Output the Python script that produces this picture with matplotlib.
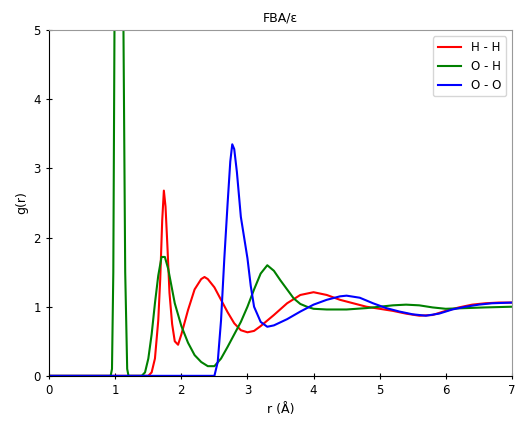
import numpy as np
import matplotlib
matplotlib.use("Agg")
import matplotlib.pyplot as plt

# H - H
r_hh = [0.0, 1.5, 1.55, 1.6, 1.65, 1.68, 1.71, 1.735, 1.76, 1.79, 1.82, 1.86, 1.9, 1.95, 2.0,
        2.1, 2.2, 2.3, 2.35, 2.4, 2.5, 2.6, 2.7, 2.8, 2.9, 3.0, 3.1, 3.2, 3.4, 3.6, 3.8, 4.0,
        4.2, 4.4, 4.6, 4.8, 5.0, 5.2, 5.4, 5.6, 5.8, 6.0, 6.2, 6.4, 6.6, 6.8, 7.0]
g_hh = [0.0, 0.0, 0.05, 0.25, 0.8, 1.4, 2.25, 2.68, 2.45, 1.85, 1.2, 0.75, 0.5, 0.45, 0.6,
        0.95, 1.25, 1.4, 1.43, 1.4, 1.28, 1.1, 0.92, 0.76, 0.66, 0.63, 0.65, 0.72, 0.88, 1.05, 1.17, 1.21,
        1.17, 1.1, 1.05, 1.0, 0.97, 0.94, 0.9, 0.87, 0.88, 0.94, 0.99, 1.03, 1.05, 1.06, 1.06]

# O - H
r_oh = [0.0, 0.93, 0.95, 0.97, 0.99, 1.02, 1.055, 1.09, 1.12, 1.15, 1.18, 1.2, 1.4, 1.45,
        1.5, 1.55, 1.6, 1.65, 1.7, 1.75, 1.8, 1.85, 1.9, 2.0, 2.1, 2.2, 2.3, 2.4, 2.5,
        2.6, 2.7, 2.8, 2.9, 3.0, 3.1, 3.2, 3.3, 3.4, 3.5, 3.6, 3.7, 3.8, 3.9, 4.0, 4.2,
        4.5, 4.8, 5.0, 5.2, 5.4, 5.6, 5.8, 6.0, 6.3, 6.6, 7.0]
g_oh = [0.0, 0.0, 0.1, 1.5, 5.5, 11.0, 14.0, 11.0, 5.5, 1.5, 0.1, 0.0, 0.0, 0.05,
        0.25, 0.6, 1.05, 1.45, 1.72, 1.72, 1.55, 1.3, 1.05, 0.72, 0.48, 0.3, 0.2, 0.14, 0.14,
        0.25, 0.42, 0.6, 0.78, 1.0, 1.25, 1.48, 1.6, 1.52, 1.38, 1.25, 1.12, 1.04, 1.0, 0.97, 0.96,
        0.96, 0.98, 1.0, 1.02, 1.03, 1.02, 0.99, 0.97, 0.98, 0.99, 1.0]

# O - O
r_oo = [0.0, 2.5, 2.55, 2.6, 2.65, 2.7, 2.74, 2.77, 2.8, 2.84, 2.9, 3.0, 3.05, 3.1, 3.2, 3.3,
        3.4, 3.6, 3.8, 4.0, 4.2, 4.4, 4.5, 4.7, 4.9, 5.1, 5.3, 5.5, 5.7, 5.9, 6.1, 6.3,
        6.5, 6.7, 7.0]
g_oo = [0.0, 0.0, 0.2, 0.8, 1.7, 2.5, 3.1, 3.35, 3.28, 2.95, 2.3, 1.7, 1.3, 1.0, 0.78, 0.71,
        0.73, 0.82, 0.93, 1.03, 1.1, 1.15, 1.16, 1.13, 1.05, 0.98, 0.93, 0.89, 0.87, 0.9, 0.96, 1.0,
        1.03, 1.05, 1.06]

fig = plt.figure(figsize=(5.18, 4.32), dpi=100)
ax = fig.add_axes([0.095, 0.13, 0.893, 0.80])

ax.plot(r_hh, g_hh, color='r', lw=1.5, label='H - H')
ax.plot(r_oh, g_oh, color='g', lw=1.5, label='O - H')
ax.plot(r_oo, g_oo, color='b', lw=1.5, label='O - O')

ax.set_xlim(0, 7)
ax.set_ylim(0, 5)
ax.set_xticks(range(0, 8))
ax.set_yticks(range(0, 6))
ax.tick_params(direction='inout', labelsize=8.5, length=5)
ax.set_xlabel('r (Å)', fontsize=9)
ax.set_ylabel('g(r)', fontsize=9)
ax.set_title('FBA/ε', fontsize=9)
for s in ['top', 'right']:
    ax.spines[s].set_color('0.6')
ax.legend(loc='upper right', fontsize=8.5)

fig.savefig('out.png', dpi=100)
